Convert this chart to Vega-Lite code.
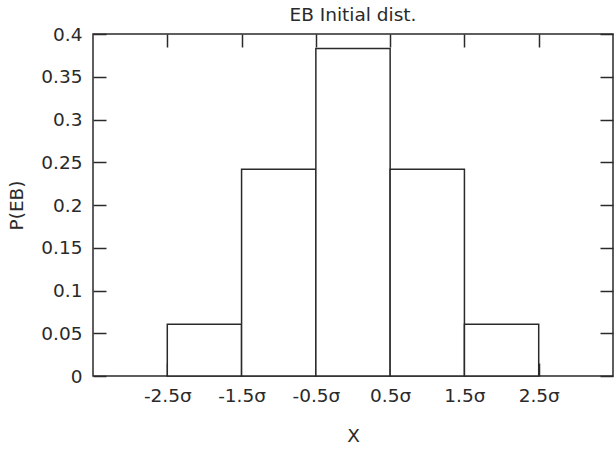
{
  "$schema": "https://vega.github.io/schema/vega-lite/v6.json",
  "autosize": {"type": "none"},
  "padding": {"left": 93, "top": 34, "right": 1, "bottom": 74},
  "width": 520,
  "height": 342,
  "title": {"text": "EB Initial dist.", "fontSize": 18.5, "font": "DejaVu Sans", "fontWeight": "normal", "color": "#2a2a2a", "offset": 4, "baseline": "alphabetic", "dy": 18},
  "data": {"values": [
    {"lo": -2.5, "hi": -1.5, "p": 0.0606},
    {"lo": -1.5, "hi": -0.5, "p": 0.2417},
    {"lo": -0.5, "hi": 0.5, "p": 0.383},
    {"lo": 0.5, "hi": 1.5, "p": 0.2417},
    {"lo": 1.5, "hi": 2.5, "p": 0.0606}
  ]},
  "layer": [
    {
      "mark": {"type": "bar", "fill": "white", "stroke": "#2a2a2a", "strokeWidth": 1.5},
      "encoding": {
        "x": {"field": "lo", "type": "quantitative", "scale": {"domain": [-3.5, 3.5], "nice": false, "zero": false},
          "axis": {"orient": "bottom", "values": [-2.5, -1.5, -0.5, 0.5, 1.5, 2.5], "labelExpr": "datum.value + 'σ'", "title": "X", "tickSize": -13, "labelPadding": 23, "titlePadding": 22}},
        "x2": {"field": "hi"},
        "y": {"field": "p", "type": "quantitative", "scale": {"domain": [0, 0.4], "nice": false},
          "axis": {"orient": "left", "values": [0, 0.05, 0.1, 0.15, 0.2, 0.25, 0.3, 0.35, 0.4], "format": "~g", "title": "P(EB)", "tickSize": -13, "labelPadding": 24, "titlePadding": 14}},
        "y2": {"datum": 0}
      }
    },
    {
      "mark": {"type": "bar", "opacity": 0},
      "encoding": {
        "x": {"field": "lo", "type": "quantitative", "scale": {"domain": [-3.5, 3.5], "nice": false, "zero": false},
          "axis": {"orient": "top", "values": [-2.5, -1.5, -0.5, 0.5, 1.5, 2.5], "labels": false, "title": null, "tickSize": -13}},
        "x2": {"field": "hi"},
        "y": {"field": "p", "type": "quantitative", "scale": {"domain": [0, 0.4], "nice": false},
          "axis": {"orient": "right", "values": [0, 0.05, 0.1, 0.15, 0.2, 0.25, 0.3, 0.35, 0.4], "labels": false, "title": null, "tickSize": -13}},
        "y2": {"datum": 0}
      }
    }
  ],
  "resolve": {"axis": {"x": "independent", "y": "independent"}},
  "config": {
    "view": {"stroke": "#2a2a2a", "strokeWidth": 1.5},
    "axis": {"domain": false, "grid": false, "tickColor": "#2a2a2a", "tickWidth": 1.5,
      "labelFont": "DejaVu Sans", "labelFontSize": 18.5, "labelColor": "#2a2a2a",
      "titleFont": "DejaVu Sans", "titleFontSize": 18.5, "titleFontWeight": "normal", "titleColor": "#2a2a2a"}
  }
}
